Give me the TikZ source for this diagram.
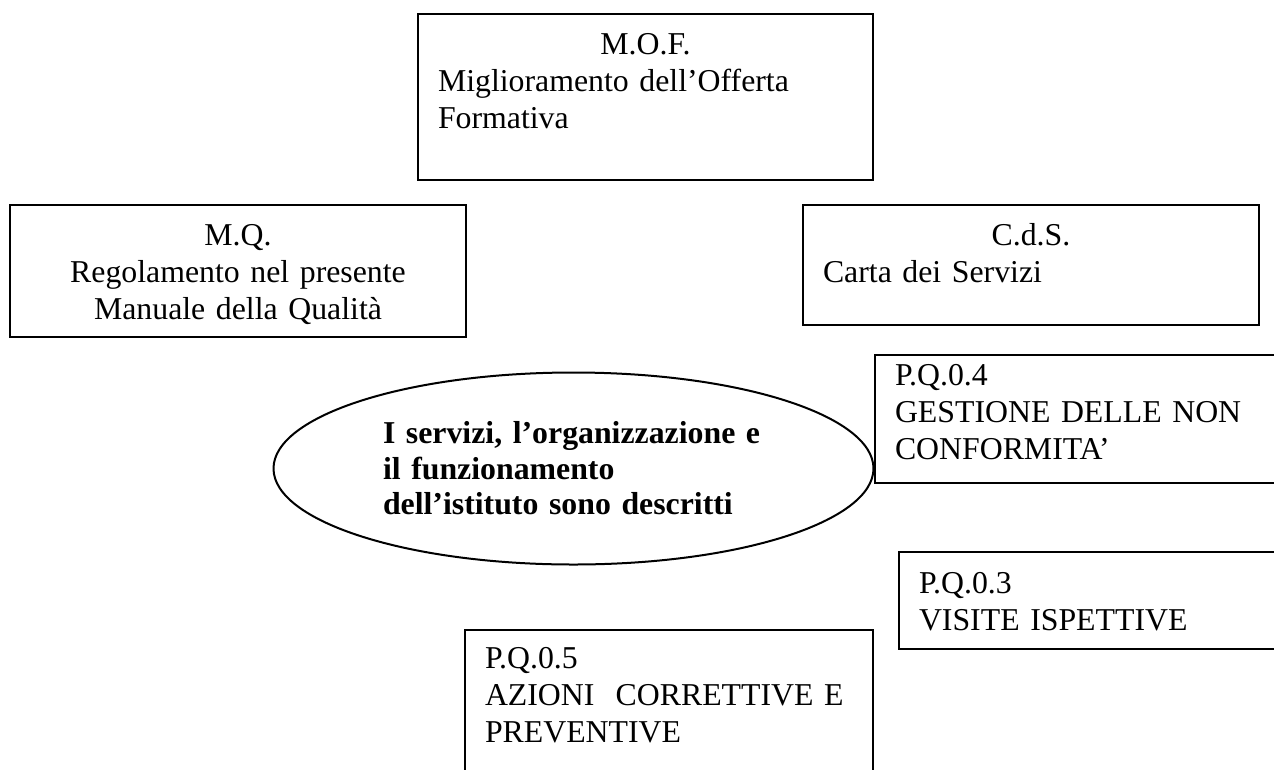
\documentclass[tikz,border=0pt]{standalone}
\usepackage{fontspec}
\setmainfont{Liberation Serif}
\usetikzlibrary{shapes.geometric}
\begin{document}
\begin{tikzpicture}[x=1pt,y=-1pt,
  every node/.style={font=\fontsize{31.8}{37}\selectfont},
  doc/.style={draw, line width=2pt, fill=white, rectangle, anchor=north west,
    inner xsep=20pt, inner ysep=0pt, outer sep=0pt, align=left},
  oval/.style={draw, line width=2pt, ellipse, inner sep=0pt, outer sep=0pt,
    minimum width=600pt, minimum height=192pt, align=left,
    font=\fontsize{31.8}{35.5}\selectfont\bfseries}
  ]
\useasboundingbox (0,0) rectangle (1274,769);
\clip (0,0) rectangle (1274,769);

\node[oval, text width=381pt] (centre) at (573.5,468.5)
  {I servizi, l'organizzazione e\\il funzionamento\\dell'istituto sono descritti};

\node[doc, text width=415pt, text height=40pt, text depth=126pt] (mof) at (418,14)
  {\makebox[\linewidth]{M.O.F.}\\Miglioramento dell'Offerta\\Formativa};

\node[doc, align=center, text width=416pt, text height=40pt, text depth=92pt] (mq) at (10,205)
  {M.Q.\\Regolamento nel presente\\Manuale della Qualità};

\node[doc, text width=416pt, text height=40pt, text depth=80pt] (cds) at (803,205)
  {\makebox[\linewidth]{C.d.S.}\\Carta dei Servizi};

\node[doc, text width=385pt, text height=30pt, text depth=98pt] (pq4) at (875,355)
  {P.Q.0.4\\GESTIONE DELLE NON\\CONFORMITA'};

\node[doc, text width=361pt, text height=41pt, text depth=56pt] (pq3) at (899,552)
  {P.Q.0.3\\VISITE ISPETTIVE};

\node[doc, text width=368pt, text height=38pt, text depth=132pt] (pq5) at (465,630)
  {P.Q.0.5\\AZIONI\ \ CORRETTIVE E\\PREVENTIVE};
\end{tikzpicture}
\end{document}
